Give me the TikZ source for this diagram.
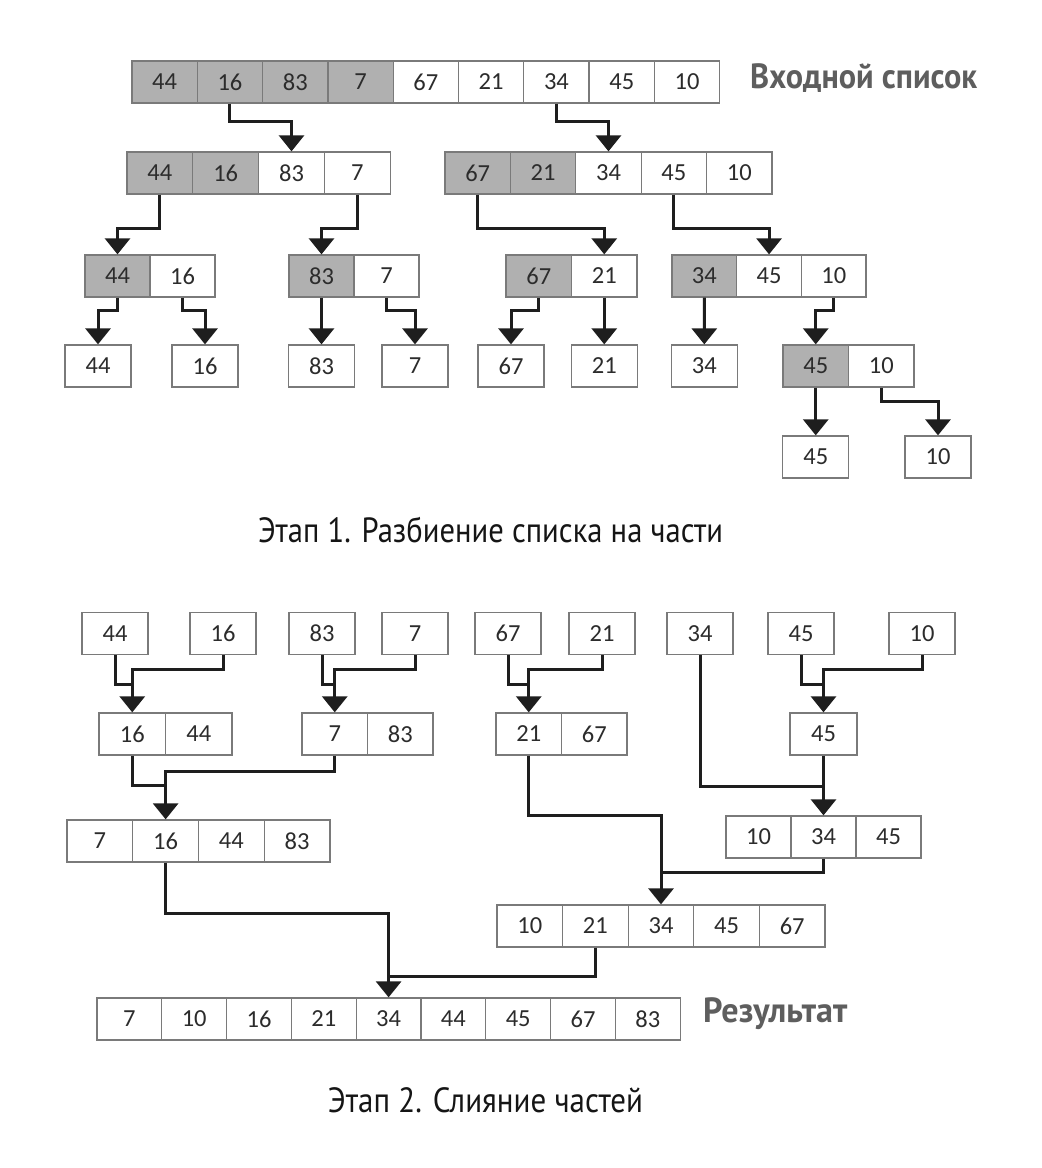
\documentclass[tikz,border=0pt]{standalone}
\usepackage{fontspec}
\usepackage{graphicx}
\usetikzlibrary{arrows.meta}
\newfontfamily\cellfont{Carlito}
\newfontfamily\capfont{PT Sans}
\definecolor{cellgray}{HTML}{B0B0B0}
\definecolor{boxline}{HTML}{7A7A7A}
\definecolor{numtext}{HTML}{2C2C2C}
\definecolor{arrowc}{HTML}{1E1E1E}
\definecolor{labelgray}{HTML}{5E5E5E}
\definecolor{titlec}{HTML}{151515}
\tikzset{
  cell/.style={draw=boxline, line width=1.3pt, minimum height=42pt, inner sep=0pt,
    text=numtext, font=\cellfont\fontsize{24.5}{24.5}\selectfont},
  single/.style={cell, fill=white, minimum width=66pt},
  conn/.style={draw=arrowc, line width=3pt},
  arr/.style={conn, -{Triangle[width=25pt,length=16pt]}},
  feed/.style={conn, shorten >=15pt},
  title/.style={text=titlec, font=\capfont\fontsize{35}{35}\selectfont, inner sep=0pt},
  blabel/.style={text=labelgray, font=\capfont\bfseries\fontsize{35}{35}\selectfont, inner sep=0pt},
}
\newcommand{\cellrow}[5]{%
  \foreach[count=\i] \v/\f in {#5}{%
    \node[cell, fill=\f, minimum width=#4pt] (#1-\i) at ({#2+(\i-0.5)*#4},#3) {\v};}}
\begin{document}
\begin{tikzpicture}[x=1pt,y=-1pt]
\useasboundingbox (0,0) rectangle (1042,1168);
\fill[white] (0,0) rectangle (1042,1168);
% ---------------- Stage 1 ----------------
\cellrow{t}{132}{82}{65.3}{44/cellgray,16/cellgray,83/cellgray,7/cellgray,67/white,21/white,34/white,45/white,10/white}
\node[blabel, anchor=base west] (inlabel) at (750,88) {\resizebox{227pt}{\height}{Входной список}};
\cellrow{a}{127}{173}{65.8}{44/cellgray,16/cellgray,83/white,7/white}
\cellrow{b}{445}{173}{65.4}{67/cellgray,21/cellgray,34/white,45/white,10/white}
\draw[arr] (t-2.south) -- ++(0,18) -| (a-3.north);
\draw[arr] (t-7.south) -- ++(0,18) -| (b-3.north);
% row 3
\cellrow{c}{85}{276}{65}{44/cellgray,16/white}
\cellrow{d}{289}{276}{65}{83/cellgray,7/white}
\cellrow{e}{506}{276}{65.5}{67/cellgray,21/white}
\cellrow{f}{672}{276}{64.7}{34/cellgray,45/white,10/white}
\draw[arr] (a-1.south) -- ++(0,34) -| (c-1.north);
\draw[arr] (a-4.south) -- ++(0,34) -| (d-1.north);
\draw[arr] (b-1.south) -- ++(0,34) -| (e-2.north);
\draw[arr] (b-4.south) -- ++(0,34) -| (f-2.north);
% row 4
\node[single] (g1) at (98,366) {44};
\node[single] (g2) at (205,366) {16};
\node[single] (g3) at (321.5,366) {83};
\node[single] (g4) at (415,366) {7};
\node[single] (g5) at (511,366) {67};
\node[single] (g6) at (604.25,366) {21};
\node[single] (g7) at (704.3,366) {34};
\cellrow{h}{783}{366}{65.5}{45/cellgray,10/white}
\draw[arr] (c-1.south) -- ++(0,13) -| (g1.north);
\draw[arr] (c-2.south) -- ++(0,13) -| (g2.north);
\draw[arr] (d-1.south) -- (g3.north);
\draw[arr] (d-2.south) -- ++(0,13) -| (g4.north);
\draw[arr] (e-1.south) -- ++(0,13) -| (g5.north);
\draw[arr] (e-2.south) -- (g6.north);
\draw[arr] (f-1.south) -- (g7.north);
\draw[arr] (f-3.south) -- ++(0,13) -| (h-1.north);
% row 5
\node[single] (i1) at (815.75,457) {45};
\node[single] (i2) at (938,457) {10};
\draw[arr] (h-1.south) -- (i1.north);
\draw[arr] (h-2.south) -- ++(0,14) -| (i2.north);
\node[title, anchor=base] (title1) at (490.5,542) {\resizebox{465pt}{\height}{Этап 1. Разбиение списка на части}};
% ---------------- Stage 2 ----------------
\node[single] (p1) at (115,633.5) {44};
\node[single] (p2) at (223,633.5) {16};
\node[single] (p3) at (322,633.5) {83};
\node[single] (p4) at (415,633.5) {7};
\node[single] (p5) at (508,633.5) {67};
\node[single] (p6) at (602,633.5) {21};
\node[single] (p7) at (700,633.5) {34};
\node[single] (p8) at (801,633.5) {45};
\node[single] (p9) at (922,633.5) {10};
\cellrow{q}{99}{734}{66.5}{16/white,44/white}
\cellrow{r}{302}{734}{65.5}{7/white,83/white}
\cellrow{s}{496}{734}{65.5}{21/white,67/white}
\node[single, minimum width=67pt] (u) at (823.5,734) {45};
\draw[feed] (p1.south) -- ++(0,29) -| (q-1.north);
\draw[arr]  (p2.south) -- ++(0,14) -| (q-1.north);
\draw[feed] (p3.south) -- ++(0,29) -| (r-1.north);
\draw[arr]  (p4.south) -- ++(0,14) -| (r-1.north);
\draw[feed] (p5.south) -- ++(0,29) -| (s-1.north);
\draw[arr]  (p6.south) -- ++(0,14) -| (s-1.north);
\draw[feed] (p8.south) -- ++(0,29) -| (u.north);
\draw[arr]  (p9.south) -- ++(0,14) -| (u.north);
% row c
\cellrow{v}{67}{841}{65.75}{7/white,16/white,44/white,83/white}
\cellrow{w}{726}{837}{65}{10/white,34/white,45/white}
\draw[feed] (q-1.south) -- ++(0,30) -| (v-2.north);
\draw[arr]  (r-1.south) -- ++(0,16) -| (v-2.north);
\draw[feed] (p7.south) -- ++(0,131) -| (w-2.north);
\draw[arr]  (u.south) -- (w-2.north);
% row d
\cellrow{x}{497}{926}{65.6}{10/white,21/white,34/white,45/white,67/white}
\draw[arr]  (s-1.south) -- ++(0,60) -| (x-3.north);
\draw[feed] (w-2.south) -- ++(0,14) -| (x-3.north);
% final row
\cellrow{z}{97}{1019}{64.8}{7/white,10/white,16/white,21/white,34/white,44/white,45/white,67/white,83/white}
\node[blabel, anchor=base west] (reslabel) at (703,1022) {\resizebox{144pt}{\height}{Результат}};
\draw[arr]  (v-2.south) -- ++(0,51) -| (z-5.north);
\draw[feed] (x-2.south) -- ++(0,29) -| (z-5.north);
\node[title, anchor=base] (title2) at (485.5,1112) {\resizebox{315pt}{\height}{Этап 2. Слияние частей}};
\end{tikzpicture}
\end{document}
